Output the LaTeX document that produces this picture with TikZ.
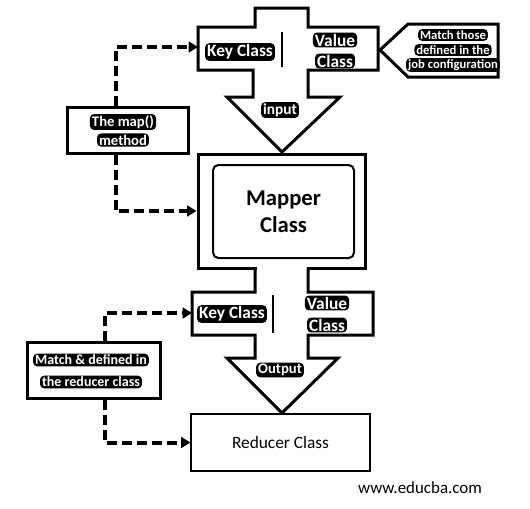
\documentclass[tikz,border=0pt]{standalone}
\usepackage{fontspec}
\setmainfont{Carlito}
\usetikzlibrary{arrows.meta,positioning}

\tikzset{
  blk/.style={fill=black, text=white, rounded corners=3pt, inner xsep=1.5pt, inner ysep=1pt,
    font=\bfseries\fontsize{#1}{#1}\selectfont},
  outline/.style={line width=2.25pt, line join=miter},
  dashline/.style={line width=3pt, dash pattern=on 7.5pt off 3.75pt,
    -{Triangle[length=7pt,width=8pt]}},
}

\begin{document}
\begin{tikzpicture}[x=0.75pt,y=-0.75pt]
            \useasboundingbox (0,0) rectangle (530,508);

            % Input block: key/value band with the arrow going down
            \draw[outline] (255,8) -- (308,8) -- (308,27) -- (378,27) -- (378,70) -- (308,70)
                -- (308,97) -- (340,97) -- (282,152) -- (227,97) -- (253,97) -- (253,70)
                -- (198,70) -- (198,27) -- (255,27) -- cycle;
            \draw[line width=0.8pt] (282,32) -- (282,67);
            \coordinate (keyin) at (198,47);
            \node[blk=13] (keyone) at (240,52) {Key Class};
            \node[blk=13] (valone) at (335,40) {Value};
            \node[blk=13] (valtwo) at (335,61) {Class};
            \node[blk=11.5] (input) at (280,110) {input};

            % Callout on the right
            \draw[outline] (380,50) -- (408,24) -- (498,24) -- (498,77) -- (408,77) -- cycle;
            \node[blk=9.5] (jobone) at (453,35) {Match those};
            \node[blk=9.5] (jobtwo) at (453,50) {defined in the};
            \node[blk=9.5] (jobthree) at (453,65) {job configuration};

            % Mapper class
            \node[draw, outline, minimum width=125.25pt, minimum height=85.5pt] (mapper) at (281.5,211) {};
            \node[draw, line width=1.5pt, rounded corners=4pt, minimum width=105.75pt, minimum height=69.75pt,
                align=center, font=\bfseries\fontsize{17}{20}\selectfont] (mapperin) at (283.5,211.5) {Mapper\\Class};

            % The map() method
            \node[draw, outline, minimum width=90.75pt, minimum height=34.5pt] (mapbox) at (127.5,130) {};
            \node[blk=11] (mapone) at (123,122) {The map()};
            \node[blk=11] (maptwo) at (123,140) {method};
            \draw[dashline] ([xshift=-9pt]mapbox.north) |- (keyin);
            \draw[dashline] ([xshift=-9pt]mapbox.south) |- (mapper.west);

            % Output block
            \fill[white] (256.5,265) rectangle (306.5,271);
            \draw[outline] (255,268) -- (255,292) -- (192,292) -- (192,335) -- (255,335) -- (255,358)
                -- (227,358) -- (282,413) -- (338,358) -- (308,358) -- (308,335) -- (373,335)
                -- (373,292) -- (308,292) -- (308,268);
            \draw[line width=0.8pt] (273,295) -- (273,333);
            \coordinate (keyout) at (192,313);
            \node[blk=13] (keytwo) at (232,314) {Key Class};
            \node[blk=13] (valthree) at (327,303) {Value};
            \node[blk=13] (valfour) at (327,325) {Class};
            \node[blk=11] (output) at (280,370) {Output};

            % Reducer class
            \node[draw, line width=0.8pt, minimum width=134.25pt, minimum height=42.75pt,
                font=\fontsize{13}{15}\selectfont] (reducer) at (280.5,442.5) {Reducer Class};

            % Match & defined in the reducer class
            \node[draw, outline, minimum width=99.75pt, minimum height=42pt] (redbox) at (93.5,370) {};
            \node[blk=10.5] (redone) at (91,360) {Match \& defined in};
            \node[blk=10.5] (redtwo) at (91,382) {the reducer class};
            \draw[dashline] ([xshift=8.5pt]redbox.north) |- (keyout);
            \draw[dashline] ([xshift=8.5pt]redbox.south) |- (reducer.west);

            % Site name
            \node[font=\fontsize{12.7}{14}\selectfont] (site) at (420,488) {www.educba.com};
        \end{tikzpicture}
\end{document}
